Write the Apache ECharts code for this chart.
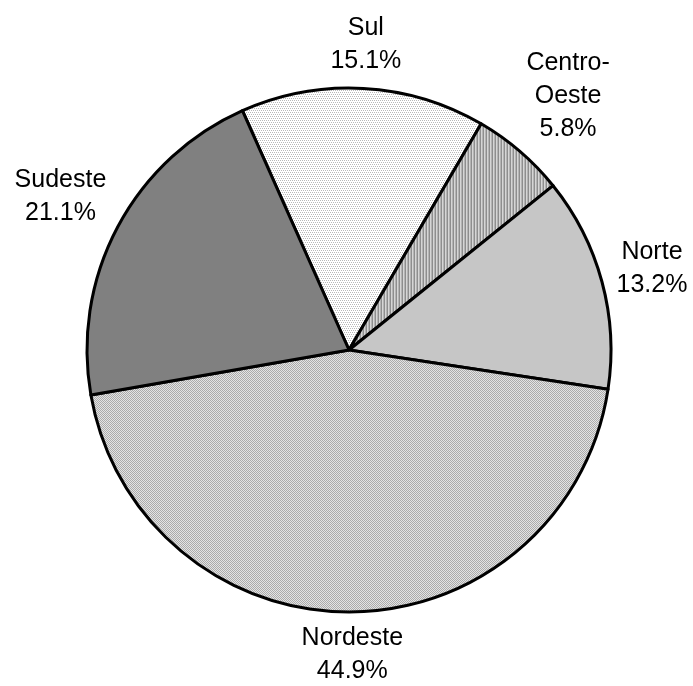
<!DOCTYPE html>
<html>
<head>
<meta charset="utf-8">
<script src="https://cdn.jsdelivr.net/npm/echarts@6/dist/echarts.min.js"></script>
<style>
  html, body { margin: 0; padding: 0; background: #fff; }
  #main { width: 693px; height: 686px; }
</style>
</head>
<body>
<div id="main"></div>
<script>
var regioes = ['Sul', 'Centro-\nOeste', 'Norte', 'Nordeste', 'Sudeste'];
var percentuais = [15.1, 5.8, 13.2, 44.9, 21.1];

var CX = 349, CY = 350, R = 262;
var GAP = 9; // clearance between pie edge and label box

// little tiles to mimic the printed hatch fills
function tile(w, h, draw) {
  var c = document.createElement('canvas');
  c.width = w;
  c.height = h;
  draw(c.getContext('2d'));
  return { image: c, repeat: 'repeat' };
}

var fillSul = tile(4, 4, function (ctx) {
  ctx.fillStyle = '#ffffff';
  ctx.fillRect(0, 0, 4, 4);
  ctx.fillStyle = '#b8b8b8';
  ctx.fillRect(0, 0, 1, 1);
  ctx.fillRect(2, 0, 1, 1);
  ctx.fillRect(1, 2, 1, 1);
  ctx.fillRect(3, 2, 1, 1);
});
var fillCentro = tile(3, 1, function (ctx) {
  ctx.fillStyle = '#8e8e8e';
  ctx.fillRect(0, 0, 1, 1);
  ctx.fillStyle = '#d6d6d6';
  ctx.fillRect(1, 0, 1, 1);
  ctx.fillStyle = '#b4b4b4';
  ctx.fillRect(2, 0, 1, 1);
});
var fillNordeste = tile(2, 2, function (ctx) {
  ctx.fillStyle = '#e4e4e4';
  ctx.fillRect(0, 0, 2, 2);
  ctx.fillStyle = '#ababab';
  ctx.fillRect(0, 0, 1, 1);
  ctx.fillRect(1, 1, 1, 1);
});
var cores = [fillSul, fillCentro, '#c6c6c6', fillNordeste, '#808080'];

var chart = echarts.init(document.getElementById('main'), null, { renderer: 'canvas' });

var fatias = regioes.map(function (nome, i) {
  return { name: nome, value: percentuais[i], itemStyle: { color: cores[i] } };
});

// push each label out along its mid-angle so its box clears the pie edge
function afastar(params) {
  var r = params.labelRect;
  var mx = r.x + r.width / 2, my = r.y + r.height / 2;
  var dx = mx - CX, dy = my - CY;
  var d = Math.sqrt(dx * dx + dy * dy) || 1;
  dx /= d; dy /= d;
  var ext = Math.abs(dx) * r.width / 2 + Math.abs(dy) * r.height / 2;
  var dist = R + GAP + ext;
  return {
    x: CX + dx * dist,
    y: CY + dy * dist,
    align: 'center',
    verticalAlign: 'middle'
  };
}

var option = {
  backgroundColor: '#ffffff',
  animation: false,
  series: [{
    type: 'pie',
    center: [CX, CY],
    radius: R,
    startAngle: 114,
    clockwise: true,
    silent: true,
    label: { show: false },
    labelLine: { show: false },
    itemStyle: {
      borderColor: '#000',
      borderWidth: 3
    },
    data: fatias
  }, {
    // transparent ring only used to place centred labels outside the pie
    type: 'pie',
    center: [CX, CY],
    radius: [R, R + 90],
    startAngle: 114,
    clockwise: true,
    silent: true,
    itemStyle: { color: 'rgba(0,0,0,0)', borderWidth: 0 },
    label: {
      show: true,
      position: 'inner',
      fontFamily: 'Liberation Sans, Arial, sans-serif',
      fontSize: 25,
      lineHeight: 33,
      color: '#000',
      align: 'center',
      formatter: function (p) {
        return p.name + '\n' + p.value.toFixed(1) + '%';
      }
    },
    labelLine: { show: false },
    labelLayout: afastar,
    data: regioes.map(function (nome, i) {
      return { name: nome, value: percentuais[i] };
    })
  }]
};

chart.setOption(option);
</script>
</body>
</html>
